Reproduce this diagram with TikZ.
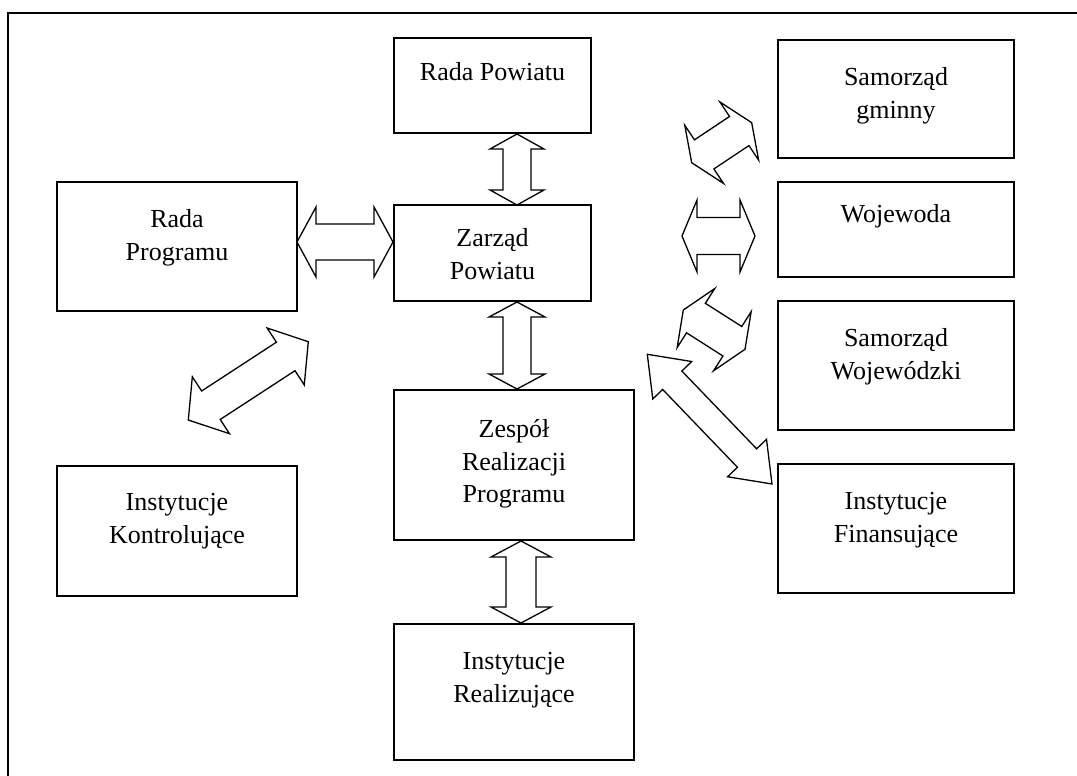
\documentclass[tikz,border=0pt]{standalone}
\usepackage{fontspec}
\setmainfont{Liberation Serif}
\usetikzlibrary{calc}
% #1 tip A, #2 tip B, #3 shaft half width, #4 head half width, #5 head length
\newcommand\blockarr[5]{%
  \coordinate (hA) at ($(#1)!#5!(#2)$);
  \coordinate (hB) at ($(#2)!#5!(#1)$);
  \draw[barrow] (#1) -- ($(hA)!#4!90:(#2)$) -- ($(hA)!#3!90:(#2)$)
    -- ($(hB)!#3!-90:(#1)$) -- ($(hB)!#4!-90:(#1)$) -- (#2)
    -- ($(hB)!#4!90:(#1)$) -- ($(hB)!#3!90:(#1)$)
    -- ($(hA)!#3!-90:(#2)$) -- ($(hA)!#4!-90:(#2)$) -- cycle;}
\begin{document}
\begin{tikzpicture}[x=1pt,y=-1pt,
  box/.style={draw, line width=1.3pt, inner sep=0pt, minimum width=#1},
  box/.default=197pt,
  lbl/.style={anchor=north, inner sep=0pt, align=center,
    font=\fontsize{26}{32.5}\selectfont},
  barrow/.style={draw, line width=1.3pt, line join=miter, fill=white},
  frame/.style={draw, line width=1.7pt}]
\useasboundingbox (0,0) rectangle (1077,776);
\fill[white] (0,0) rectangle (1077,776);
\draw[frame] (8,776) -- (8,13) -- (1077,13);

% boxes
\node[box, minimum height=95pt] (rpow) at (492.5,85.5) {};
\node[box, minimum height=96pt] (zpow) at (492.5,253) {};
\node[box=240pt, minimum height=150pt] (zesp) at (514,465) {};
\node[box=240pt, minimum height=136pt] (irea) at (514,692) {};
\node[box=240pt, minimum height=129pt] (rprog) at (177,246.5) {};
\node[box=240pt, minimum height=130pt] (ikon) at (177,531) {};
\node[box=236pt, minimum height=118pt] (sgm) at (896,99) {};
\node[box=236pt, minimum height=95pt] (woj) at (896,229.5) {};
\node[box=236pt, minimum height=129pt] (swoj) at (896,365.5) {};
\node[box=236pt, minimum height=129pt] (ifin) at (896,528.5) {};

% labels
\node[lbl] (trpow) at ($(rpow.north)+(0,25)$) {Rada Powiatu};
\node[lbl] (tzpow) at ($(zpow.north)+(0,24)$) {Zarząd\\Powiatu};
\node[lbl] (tzesp) at ($(zesp.north)+(0,30)$) {Zespół\\Realizacji\\Programu};
\node[lbl] (tirea) at ($(irea.north)+(0,29)$) {Instytucje\\Realizujące};
\node[lbl] (trprog) at ($(rprog.north)+(0,28)$) {Rada\\Programu};
\node[lbl] (tikon) at ($(ikon.north)+(0,28)$) {Instytucje\\Kontrolujące};
\node[lbl] (tsgm) at ($(sgm.north)+(0,28)$) {Samorząd\\gminny};
\node[lbl] (twoj) at ($(woj.north)+(0,23)$) {Wojewoda};
\node[lbl] (tswoj) at ($(swoj.north)+(0,28)$) {Samorząd\\Wojewódzki};
\node[lbl] (tifin) at ($(ifin.north)+(0,29)$) {Instytucje\\Finansujące};

% arrow end points
\coordinate (a1s) at (517,134);   \coordinate (a1e) at (517,205);
\coordinate (a2s) at (517,302);   \coordinate (a2e) at (517,389);
\coordinate (a3s) at (521,541);   \coordinate (a3e) at (521,623);
\coordinate (a4s) at (297,242);   \coordinate (a4e) at (393,242);
\coordinate (a5s) at (682,236);   \coordinate (a5e) at (755,236);
\coordinate (a6s) at (691.7,162.7); \coordinate (a6e) at (751.7,122.7);
\coordinate (a7s) at (683.3,310); \coordinate (a7e) at (745,349.3);
\coordinate (a8s) at (647.3,354.3); \coordinate (a8e) at (772,484);
\coordinate (a9s) at (188.3,420); \coordinate (a9e) at (308.3,341.7);

\blockarr{a1s}{a1e}{14pt}{27pt}{15pt}
\blockarr{a2s}{a2e}{14pt}{28pt}{15pt}
\blockarr{a3s}{a3e}{15pt}{30pt}{16pt}
\blockarr{a4s}{a4e}{18pt}{35pt}{19pt}
\blockarr{a5s}{a5e}{18.5pt}{36pt}{15pt}
\blockarr{a6s}{a6e}{17.5pt}{35pt}{15pt}
\blockarr{a7s}{a7e}{17.5pt}{35pt}{15pt}
\blockarr{a8s}{a8e}{13.3pt}{27pt}{36pt}
\blockarr{a9s}{a9e}{17pt}{34pt}{27pt}
\end{tikzpicture}
\end{document}
